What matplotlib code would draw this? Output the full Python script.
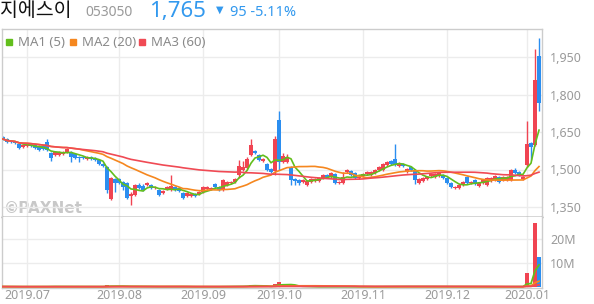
import numpy as np
import pandas as pd
import matplotlib
matplotlib.use("Agg")
import matplotlib.pyplot as plt

# trading days (KRX holidays removed)
holidays=["2019-08-15","2019-09-12","2019-09-13","2019-10-03","2019-10-09",
          "2019-12-25","2019-12-31","2020-01-01"]
dates=pd.bdate_range("2019-06-21","2020-01-07",freq="C",holidays=holidays)

opens=np.array([1630,1622,1614,1610,1602,1590,1594,1602,1598,1594,
                1594,1610,1566,1558,1558,1562,1570,1570,1562,1550,
                1550,1542,1550,1546,1538,1522,1510,1382,1462,1462,
                1450,1446,1394,1398,1438,1434,1438,1438,1426,1418,
                1406,1422,1418,1430,1426,1406,1394,1394,1402,1402,
                1410,1422,1422,1442,1430,1418,1438,1446,1450,1478,
                1498,1506,1558,1574,1558,1534,1522,1502,1494,1698,
                1530,1530,1510,1462,1458,1450,1438,1450,1454,1454,
                1466,1478,1470,1482,1446,1446,1490,1494,1486,1466,
                1474,1482,1478,1486,1498,1498,1518,1534,1542,1514,
                1522,1490,1510,1498,1446,1454,1462,1474,1470,1474,
                1478,1466,1446,1426,1426,1438,1470,1446,1458,1434,
                1446,1438,1454,1458,1470,1458,1458,1458,1498,1490,
                1462,1518,1606,1598,1954])
closes=np.array([1622,1610,1610,1606,1586,1598,1602,1594,1586,1578,
                 1582,1578,1546,1570,1570,1570,1582,1550,1546,1546,
                 1546,1550,1542,1538,1522,1514,1418,1466,1446,1446,
                 1430,1386,1402,1438,1426,1418,1446,1426,1430,1398,
                 1414,1430,1434,1418,1414,1386,1406,1402,1394,1410,
                 1430,1430,1426,1430,1418,1458,1450,1450,1462,1514,
                 1510,1542,1598,1566,1538,1542,1498,1490,1622,1530,
                 1554,1550,1458,1454,1446,1458,1454,1462,1462,1466,
                 1478,1470,1486,1446,1450,1470,1498,1478,1466,1470,
                 1482,1490,1490,1498,1510,1522,1530,1522,1518,1526,
                 1514,1502,1498,1458,1462,1466,1470,1482,1482,1486,
                 1466,1446,1430,1430,1438,1450,1446,1450,1442,1446,
                 1458,1466,1466,1474,1450,1470,1470,1498,1486,1478,
                 1470,1602,1590,1860,1765])
highs=np.array([1634,1626,1618,1614,1606,1602,1606,1606,1602,1598,
                1598,1622,1570,1574,1574,1574,1586,1574,1566,1554,
                1554,1554,1554,1550,1542,1526,1514,1470,1466,1466,
                1454,1450,1410,1442,1446,1442,1450,1442,1434,1422,
                1418,1434,1478,1434,1430,1410,1410,1406,1406,1414,
                1434,1434,1430,1446,1434,1462,1454,1454,1466,1538,
                1534,1550,1622,1578,1562,1546,1526,1506,1634,1734,
                1566,1562,1514,1466,1462,1462,1458,1466,1466,1470,
                1482,1482,1490,1486,1454,1490,1502,1498,1490,1474,
                1486,1494,1494,1502,1514,1526,1534,1538,1602,1530,
                1526,1506,1514,1502,1466,1470,1474,1486,1486,1490,
                1482,1470,1450,1434,1442,1454,1474,1454,1462,1450,
                1462,1470,1470,1478,1474,1474,1474,1502,1506,1494,
                1474,1694,1610,1982,2026])
lows=np.array([1618,1606,1606,1602,1582,1586,1590,1590,1582,1574,
               1578,1574,1534,1554,1554,1558,1566,1530,1542,1530,
               1542,1538,1538,1534,1518,1510,1406,1378,1410,1442,
               1418,1382,1358,1394,1422,1414,1434,1422,1422,1394,
               1402,1418,1414,1414,1410,1382,1390,1390,1390,1398,
               1406,1418,1418,1426,1414,1414,1434,1442,1446,1466,
               1494,1502,1554,1562,1534,1530,1494,1486,1478,1498,
               1526,1526,1438,1438,1438,1446,1434,1446,1450,1450,
               1462,1466,1466,1442,1442,1442,1486,1474,1462,1462,
               1470,1478,1474,1482,1494,1494,1514,1518,1514,1510,
               1510,1486,1494,1442,1442,1450,1458,1470,1466,1470,
               1462,1442,1426,1422,1422,1434,1442,1442,1438,1430,
               1442,1434,1450,1454,1446,1454,1454,1454,1482,1474,
               1458,1510,1538,1594,1735])
# volume, thousand shares
volume=np.array([180,150,120,110,210,130,140,100,120,160,
                 140,250,300,170,120,130,190,220,150,160,
                 110,120,100,130,210,190,650,540,280,170,
                 230,380,330,260,180,200,140,150,110,180,
                 130,120,260,150,140,200,120,90,100,110,
                 160,120,100,130,110,240,150,110,130,520,
                 380,460,900,420,350,240,300,220,1100,2300,
                 700,450,520,300,220,160,180,150,130,140,
                 170,120,160,230,110,260,200,140,150,110,
                 120,110,130,150,180,240,200,150,380,160,
                 120,180,130,300,170,120,110,130,120,140,
                 150,180,160,100,110,130,170,90,110,100,
                 120,160,130,140,150,110,100,250,200,150,
                 140,5800,900,26700,12500])*1000

name="지에스이"
code="053050"
last="1,765"
change="95 -5.11%"
ma_windows=[5,20,60]
ma_labels=["MA1 (5)","MA2 (20)","MA3 (60)"]
price_ticks=[1350,1500,1650,1800,1950]
vol_ticks=[10e6,20e6]
vol_tick_labels=["10M","20M"]

RED="#f04452"
BLUE="#2b8ef0"
MA_COLORS=["#62be1c","#f5871f","#f04a54"]
GRID="#ececec"
TXT="#9a9a9a"
FONT=["Noto Sans","DejaVu Sans"]

W,H=594,304
def box(l,t,r,b):
    return [l/W,1-b/H,(r-l)/W,(b-t)/H]

fig=plt.figure(figsize=(W/100,H/100),dpi=100)
axp=fig.add_axes(box(2,29,542,216.5))
axv=fig.add_axes(box(2,216.5,542,288),sharex=axp)

x=np.arange(len(dates))
month_start=[i for i in range(len(dates)) if i==0 or dates[i].month!=dates[i-1].month][1:]
month_lbl=[dates[i].strftime("%Y.%m") for i in month_start]

# candles
col=np.where(closes>=opens,RED,BLUE)
axp.vlines(x,lows,highs,colors=col,lw=1,zorder=2)
body=np.maximum(np.abs(closes-opens),3)
axp.bar(x,body,bottom=np.minimum(opens,closes),width=0.8,color=col,lw=0,zorder=2)

cs=pd.Series(closes,dtype=float)
for w,c in zip(ma_windows,MA_COLORS):
    axp.plot(x,cs.rolling(w,min_periods=1).mean(),color=c,lw=1.2,zorder=3)

# volume
vprev=np.concatenate([[volume[0]],volume[:-1]])
vcol=np.where(volume>=vprev,RED,BLUE)
axv.bar(x,volume,width=0.8,color=vcol,lw=0,zorder=2)
vs=pd.Series(volume,dtype=float)
for w,c in zip(ma_windows,MA_COLORS):
    axv.plot(x,vs.rolling(w,min_periods=1).mean(),color=c,lw=1.3,zorder=3)

axp.set_xlim(-0.25,134.75)
axp.set_ylim(1312,2062)
axv.set_ylim(-0.4e6,29.4e6)

for ax in (axp,axv):
    ax.set_xticks(month_start)
    ax.grid(True,color=GRID,lw=1,zorder=0)
    ax.yaxis.tick_right()
    ax.tick_params(length=0,labelsize=9,labelcolor=TXT)
    for s in ax.spines.values():
        s.set_color("#cccccc")
        s.set_linewidth(1)
axp.set_yticks(price_ticks)
axp.set_yticklabels([f"{v:,}" for v in price_ticks],family=FONT)
axp.tick_params(axis="y",pad=6)
axp.tick_params(axis="x",labelbottom=False)
axp.spines["bottom"].set_color("#333333")
axv.spines["top"].set_visible(False)
axv.set_yticks(vol_ticks)
axv.set_yticklabels(vol_tick_labels,family=FONT)
axv.tick_params(axis="y",pad=6)
axv.set_xticklabels(month_lbl,family=FONT)
axv.tick_params(axis="x",pad=1)

# header
fig.text(0/W,1-16.5/H,name,family=["Noto Sans CJK KR","DejaVu Sans"],fontsize=14,color="#111111",va="baseline")
fig.text(85/W,1-16/H,code,family=FONT,fontsize=10,color=TXT,va="baseline")
fig.text(149/W,1-17/H,last,family=FONT,fontsize=16,color="#3399ee",va="baseline")
fig.text(216/W,1-13/H,"▼",family=["DejaVu Sans"],fontsize=7,color="#3399ee",va="baseline")
fig.text(230/W,1-16/H,change,family=FONT,fontsize=10.5,color="#3399ee",va="baseline")

# legend
lx=[6,70,139]
for xx,c,lab in zip(lx,MA_COLORS,ma_labels):
    fig.add_artist(plt.Rectangle((xx/W,1-45/H),6/W,6/H,color=c,transform=fig.transFigure))
    fig.text((xx+12)/W,1-42/H,lab,family=FONT,fontsize=9.5,color="#8a8a8a",va="center")

axp.text(4/W,1-213/H,"©PAXNet",transform=fig.transFigure,family=["DejaVu Sans"],
         fontsize=11,fontweight="bold",color="#c8c8c8",va="baseline",zorder=1)

fig.savefig("out.png",dpi=100)
